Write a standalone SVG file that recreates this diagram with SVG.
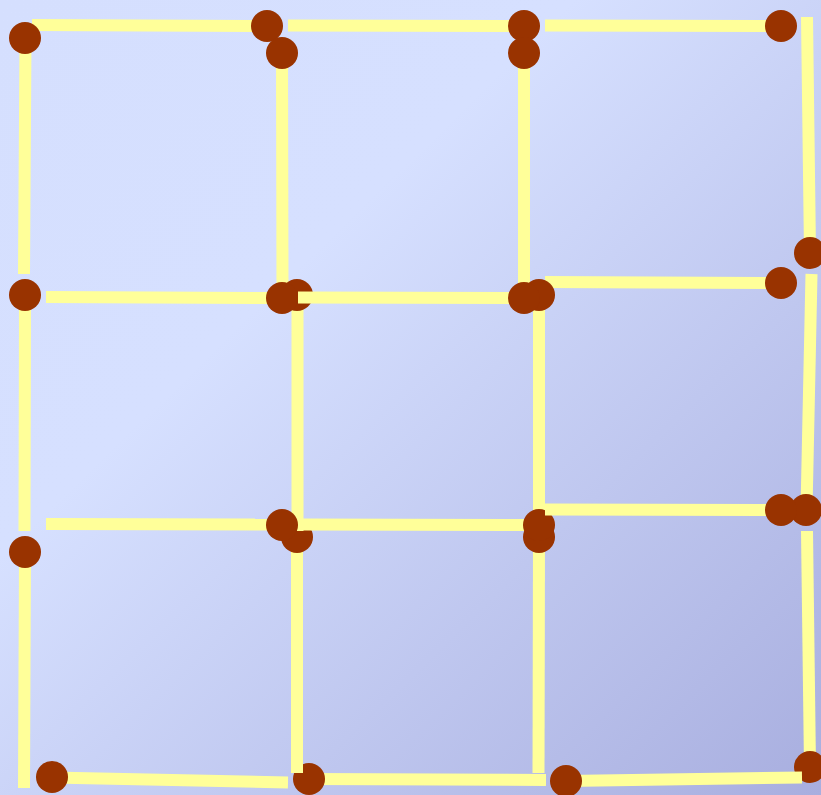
<svg xmlns="http://www.w3.org/2000/svg" width="821" height="795" viewBox="0 0 821 795">
<defs>
<linearGradient id="bg" x1="0" y1="0" x2="1" y2="1">
<stop offset="0" stop-color="#D5DFFE"/>
<stop offset="0.35" stop-color="#D6E0FF"/>
<stop offset="1" stop-color="#A8AEDF"/>
</linearGradient>
</defs>
<style>
.stick{stroke:#FFFF99;stroke-width:12;stroke-linecap:butt;fill:none}
.head{fill:#993300}
</style>
<rect x="0" y="0" width="821" height="795" fill="url(#bg)"/>
<g id="matches">
<g id="m1"><line class="stick" x1="32" y1="25" x2="267" y2="26"/><circle class="head" cx="267" cy="26" r="16"/></g>
<g id="m4"><line class="stick" x1="25.5" y1="38" x2="24" y2="274"/><circle class="head" cx="25" cy="38" r="16"/></g>
<g id="m10"><line class="stick" x1="282" y1="53" x2="282.5" y2="289"/><circle class="head" cx="282" cy="53" r="16"/></g>
<g id="m2"><line class="stick" x1="288" y1="25.5" x2="524" y2="26"/><circle class="head" cx="524" cy="26" r="16"/></g>
<g id="m18"><line class="stick" x1="524" y1="53" x2="524" y2="289"/><circle class="head" cx="524" cy="53" r="16"/></g>
<g id="m3"><line class="stick" x1="545" y1="25.5" x2="781" y2="26"/><circle class="head" cx="781" cy="26" r="16"/></g>
<g id="m15"><line class="stick" x1="807" y1="17" x2="810" y2="253"/><circle class="head" cx="810" cy="253" r="16"/></g>
<g id="m9"><line class="stick" x1="545" y1="282" x2="781" y2="283"/><circle class="head" cx="781" cy="283" r="16"/></g>
<g id="m16"><line class="stick" x1="811.5" y1="274" x2="806.5" y2="510"/><circle class="head" cx="806" cy="510" r="16"/></g>
<g id="m5"><line class="stick" x1="25" y1="295" x2="24.5" y2="531"/><circle class="head" cx="25" cy="295" r="16"/></g>
<g id="m19"><line class="stick" x1="539" y1="295" x2="539" y2="531"/><circle class="head" cx="539" cy="295" r="16"/></g>
<g id="m20"><line class="stick" x1="539" y1="537" x2="538.5" y2="773"/><circle class="head" cx="539" cy="537" r="16"/></g>
<g id="m23"><line class="stick" x1="309" y1="779" x2="546" y2="780"/><circle class="head" cx="309" cy="779" r="16"/></g>
<g id="m21"><line class="stick" x1="297" y1="537" x2="297" y2="773"/><circle class="head" cx="297" cy="537" r="16"/></g>
<g id="m11"><line class="stick" x1="297.5" y1="295" x2="297.5" y2="531"/><circle class="head" cx="297" cy="295" r="16"/></g>
<g id="m7"><line class="stick" x1="46" y1="297" x2="282" y2="298"/><circle class="head" cx="282" cy="298" r="16"/></g>
<g id="m8"><line class="stick" x1="298" y1="297.5" x2="524" y2="298"/><circle class="head" cx="524" cy="298" r="16"/></g>
<g id="m12"><line class="stick" x1="46" y1="524" x2="282" y2="524.5"/><circle class="head" cx="282" cy="525" r="16"/></g>
<g id="m13"><line class="stick" x1="303" y1="524.5" x2="539" y2="525"/><circle class="head" cx="539" cy="525" r="16"/></g>
<g id="m14"><line class="stick" x1="545" y1="509.5" x2="781" y2="510"/><circle class="head" cx="781" cy="510" r="16"/></g>
<g id="m6"><line class="stick" x1="25" y1="552" x2="24" y2="788"/><circle class="head" cx="25" cy="552" r="16"/></g>
<g id="m22"><line class="stick" x1="52" y1="777.5" x2="288" y2="782.5"/><circle class="head" cx="52" cy="777" r="16"/></g>
<g id="m17"><line class="stick" x1="807" y1="531" x2="810" y2="767"/><circle class="head" cx="810" cy="767" r="16"/></g>
<g id="m24"><line class="stick" x1="566" y1="781" x2="802" y2="777.5"/><circle class="head" cx="566" cy="781" r="16"/></g>
</g>
</svg>
